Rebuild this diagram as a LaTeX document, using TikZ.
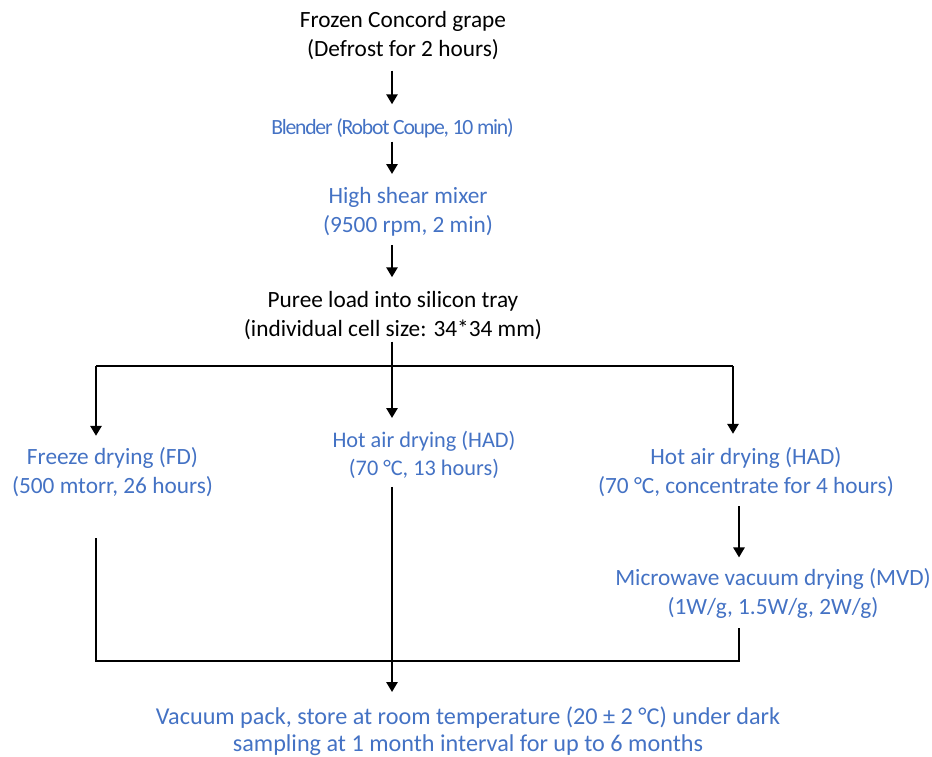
\documentclass[tikz,border=0pt]{standalone}
\usepackage{fontspec}
\setmainfont{Carlito}
\usetikzlibrary{arrows.meta}
\definecolor{stepblue}{RGB}{68,114,196}

\begin{document}
\begin{tikzpicture}[x=1pt,y=-1pt,
    lbl/.style={align=center,inner sep=0pt,outer sep=0pt,font=\fontsize{23.3}{29}\selectfont},
    blue lbl/.style={lbl,text=stepblue},
    link/.style={line width=2.6pt},
    flow/.style={link,-{Triangle[length=10pt,width=11pt]}}]
    \useasboundingbox (0,0) rectangle (932,756);
    % Steps
    \node[lbl] (frozen) at (403,35.5) {Frozen Concord grape\\(Defrost for 2 hours)};
    \node[blue lbl,font=\fontsize{21.7}{29}\selectfont\addfontfeature{LetterSpace=-5.7}] (blender) at (392.5,128) {Blender (Robot Coupe, 10 min)};
    \node[blue lbl] (mixer) at (408,211.5) {High shear mixer\\(9500 rpm, 2 min)};
    \node[lbl] (puree) at (393,315.5) {Puree load into silicon tray\\(individual cell size: 34*34 mm)};
    % Drying
    \node[blue lbl] (freeze) at (112.5,472.5) {Freeze drying (FD)\\(500 mtorr, 26 hours)};
    \node[blue lbl,font=\fontsize{22.3}{28.5}\selectfont] (hadmid) at (424,455) {Hot air drying (HAD)\\(70 °C, 13 hours)};
    \node[blue lbl] (hadright) at (746,472.5) {Hot air drying (HAD)\\(70 °C, concentrate for 4 hours)};
    \node[blue lbl] (mvd) at (773,593.5) {Microwave vacuum drying (MVD)\\(1W/g, 1.5W/g, 2W/g)};
    % Storage
    \node[blue lbl,font=\fontsize{24.2}{27}\selectfont] (store) at (468,731.5)
        {Vacuum pack, store at room temperature (20 ± 2 °C) under dark\\sampling at 1 month interval for up to 6 months};
    % Branch points
    \coordinate (barL) at (96,366);
    \coordinate (barR) at (733,366);
    \coordinate (joinL) at (96,661);
    \coordinate (join) at (392,661);
    \coordinate (joinR) at (739,661);
    % Arrows
    \draw[flow,shorten <=11pt,shorten >=14pt] (frozen.south -| join) -- (blender.north -| join);
    \draw[flow,shorten <=4pt,shorten >=13pt] (blender.south -| join) -- (mixer.north -| join);
    \draw[flow,shorten <=9pt,shorten >=14pt] (mixer.south -| join) -- (puree.north -| join);
    \draw[flow,shorten <=2pt,shorten >=13pt] (puree.south -| join) -- (hadmid.north -| join);
    \draw[link] (barL) -- (barR);
    \draw[flow,shorten >=12pt] (barL) -- (barL |- freeze.north);
    \draw[flow,shorten >=14pt] (barR) -- (barR |- hadright.north);
    \draw[flow,shorten <=9pt,shorten >=11pt] (hadright.south -| joinR) -- (joinR |- mvd.north);
    \draw[link] ([yshift=-41pt]freeze.south -| joinL) -- (joinL) -- (joinR) -- ([yshift=-9pt]mvd.south -| joinR);
    \draw[flow,shorten <=8pt,shorten >=15pt] (hadmid.south -| join) -- (join |- store.north);
\end{tikzpicture}
\end{document}
